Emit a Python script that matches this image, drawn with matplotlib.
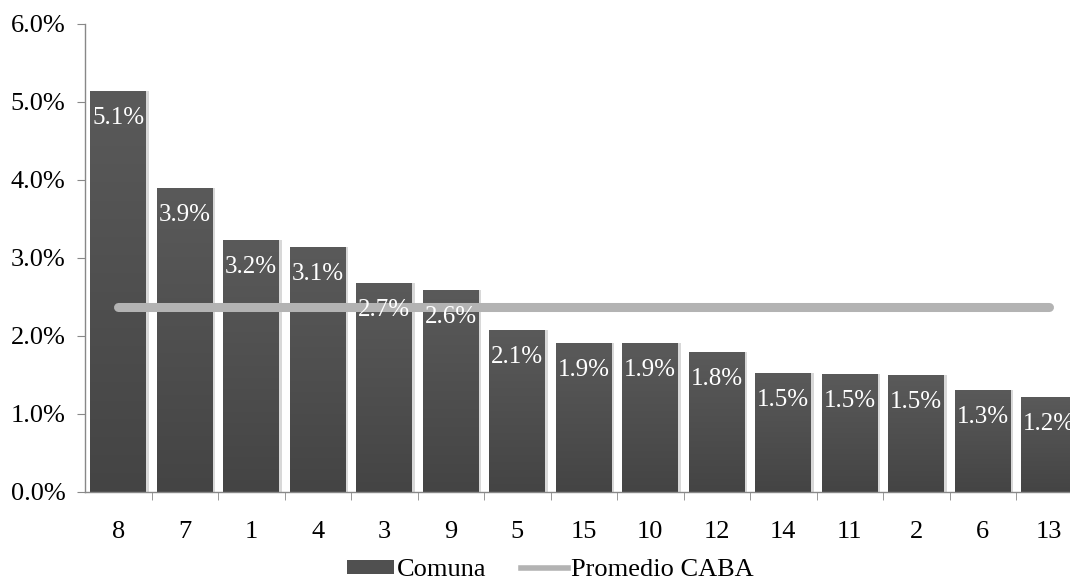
import matplotlib
matplotlib.use("Agg")
import matplotlib.pyplot as plt
import numpy as np
from matplotlib.lines import Line2D
from matplotlib.patches import Patch
from matplotlib.colors import LinearSegmentedColormap

plt.rcParams['font.family'] = ['Liberation Serif', 'DejaVu Serif']

comunas = ['8', '7', '1', '4', '3', '9', '5', '15', '10', '12', '14', '11', '2', '6', '13']
valores = [5.14, 3.90, 3.23, 3.14, 2.68, 2.59, 2.08, 1.91, 1.91, 1.79, 1.53, 1.51, 1.50, 1.31, 1.22]
etiquetas = ['5.1%', '3.9%', '3.2%', '3.1%', '2.7%', '2.6%', '2.1%', '1.9%', '1.9%', '1.8%',
             '1.5%', '1.5%', '1.5%', '1.3%', '1.2%']
promedio_caba = 2.37
yticks = [0, 1, 2, 3, 4, 5, 6]

fig = plt.figure(figsize=(10.7, 5.85), dpi=100)
ax = fig.add_axes([85/1070, 93/585, 15*66.5/1070, 468/585])

x = np.arange(len(comunas))
width = 0.84
bars = ax.bar(x, valores, width=width, color='#505050', edgecolor='none', zorder=2)

cmap = LinearSegmentedColormap.from_list('g', ['#444444', '#5a5a5a'])
grad = np.linspace(0, 1, 256).reshape(-1, 1)
for b in bars:
    bx, by = b.get_x(), b.get_y()
    bw, bh = b.get_width(), b.get_height()
    ax.bar(bx + bw/2 + 0.02, bh, width=bw + 0.04, bottom=0, color='#d8d8d8', zorder=1, edgecolor='none')
    im = ax.imshow(grad, extent=[bx, bx + bw, 0, bh], origin='lower', cmap=cmap,
                   aspect='auto', zorder=2.5)
    im.set_clip_path(b)

ax.plot([x[0], x[-1]], [promedio_caba]*2, color='#b3b3b3', lw=6.5, solid_capstyle='round', zorder=3)

for xi, v, t in zip(x, valores, etiquetas):
    ax.annotate(t, (xi, v), xytext=(0, -11.5), textcoords='offset points', ha='center', va='top',
                color='white', fontsize=18, zorder=4)

ax.set_xlim(-0.5, len(comunas) - 0.5)
ax.set_ylim(0, 6)
ax.set_yticks(yticks)
ax.set_yticklabels([f'{t:.1f}%' for t in yticks], fontsize=19)
ax.set_xticks(x)
ax.set_xticklabels(comunas, fontsize=19)
ax.set_xticks(np.arange(len(comunas)) + 0.5, minor=True)
ax.tick_params(axis='x', which='major', length=0, pad=21)
ax.tick_params(axis='x', which='minor', length=6, color='#888888')
ax.tick_params(axis='y', length=6, color='#888888', pad=8)

for s in ['top', 'right']:
    ax.spines[s].set_visible(False)
for s in ['left', 'bottom']:
    ax.spines[s].set_color('#888888')
    ax.spines[s].set_linewidth(1)

handles = [Patch(facecolor='#505050', edgecolor='none'),
           Line2D([0], [0], color='#b3b3b3', lw=4)]
fig.legend(handles, ['Comuna', 'Promedio CABA'], loc='center', bbox_to_anchor=(550/1070, 1 - 570/585),
           ncol=2, frameon=False, fontsize=19, handlelength=1.8, handleheight=0.45,
           handletextpad=0.1, columnspacing=1.3, borderpad=0, borderaxespad=0)

fig.savefig('out.png', dpi=100)
